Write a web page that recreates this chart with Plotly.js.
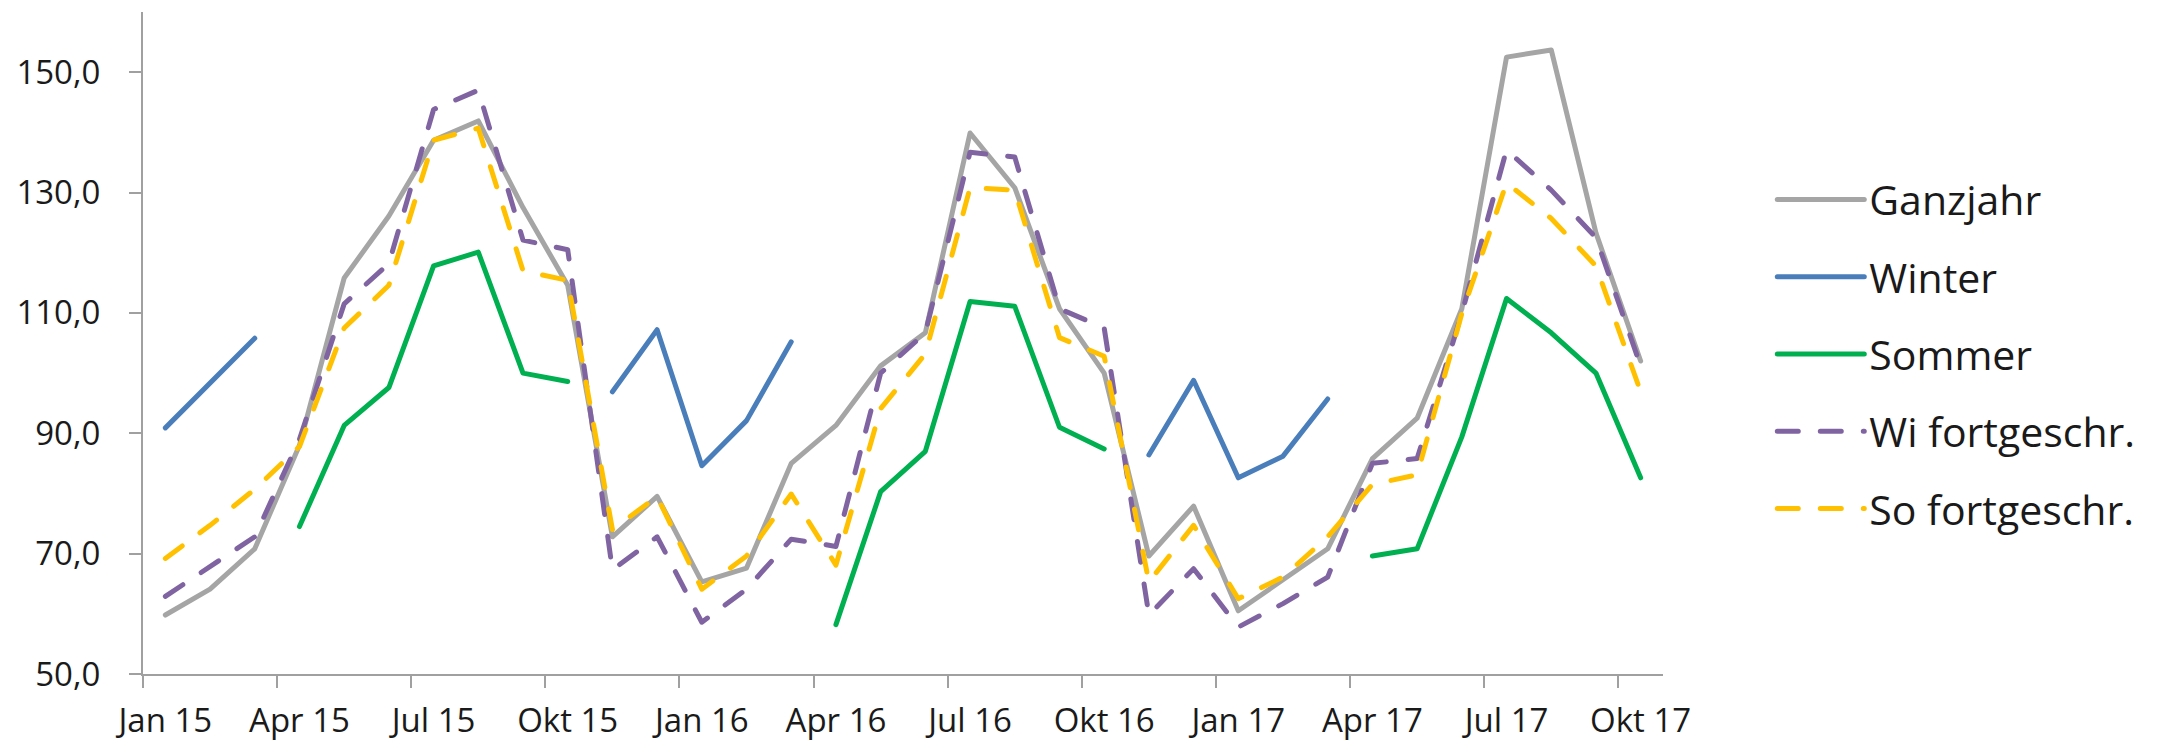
<!DOCTYPE html>
<html>
<head>
<meta charset="utf-8">
<script src="https://cdn.plot.ly/plotly-3.0.1.min.js"></script>
<style>
  html, body { margin: 0; padding: 0; background: #fff; }
  #chart { width: 2174px; height: 745px; }
  /* Excel-artige runde Linienenden */
  #chart path.js-line { stroke-linecap: round; stroke-linejoin: round; }
</style>
</head>
<body>
<div id="chart"></div>
<script>
// Monatswerte Jan 15 - Okt 17

const months = [
    'Jan 15', 'Feb 15', 'Mär 15', 'Apr 15', 'Mai 15', 'Jun 15', 'Jul 15', 'Aug 15', 'Sep 15', 'Okt 15', 'Nov 15', 'Dez 15',
    'Jan 16', 'Feb 16', 'Mär 16', 'Apr 16', 'Mai 16', 'Jun 16', 'Jul 16', 'Aug 16', 'Sep 16', 'Okt 16', 'Nov 16', 'Dez 16',
    'Jan 17', 'Feb 17', 'Mär 17', 'Apr 17', 'Mai 17', 'Jun 17', 'Jul 17', 'Aug 17', 'Sep 17', 'Okt 17'
];

const ganzjahr = [
    59.8, 64.1, 70.8, 88.0, 115.8, 126.1, 138.7, 141.9, 127.5, 114.6, 72.8, 79.5,
    65.3, 67.6, 85.0, 91.3, 101.2, 106.7, 139.9, 130.8, 110.7, 100.0, 69.6, 77.9,
    60.5, 65.7, 70.8, 85.8, 92.5, 110.7, 152.5, 153.7, 123.3, 102.0
];

const winter = [
    90.9, 98.4, 105.8, null, null, null, null, null, null, null, 96.9, 107.2,
    84.6, 92.1, 105.2, null, null, null, null, null, null, null, 86.4, 98.8,
    82.6, 86.2, 95.7, null, null, null, null, null, null, null
];

const sommer = [
    null, null, null, 74.5, 91.3, 97.6, 117.8, 120.1, 100.0, 98.6, null, null,
    null, null, null, 58.2, 80.3, 87.0, 111.9, 111.1, 91.0, 87.4, null, null,
    null, null, null, 69.6, 70.8, 89.4, 112.4, 106.7, 100.0, 82.6
];

const wiFortgeschr = [
    62.9, 67.9, 72.8, 89.0, 111.5, 118.2, 143.8, 147.0, 122.1, 120.5, 67.3, 72.8,
    58.6, 64.1, 72.4, 71.2, 100.0, 106.7, 136.7, 135.9, 110.7, 107.5, 59.8, 67.5,
    57.8, 61.7, 66.1, 85.0, 85.8, 109.9, 137.1, 130.4, 122.5, 101.2
];

const soFortgeschr = [
    69.2, 74.7, 80.7, 87.8, 107.5, 114.6, 138.7, 140.7, 117.0, 115.4, 74.0, 79.5,
    64.1, 69.6, 79.9, 68.1, 94.1, 103.2, 130.8, 130.4, 105.9, 102.8, 65.3, 74.7,
    62.5, 66.1, 72.8, 81.5, 83.1, 109.9, 131.6, 125.7, 117.8, 96.9
];

const seriesNames = ['Ganzjahr', 'Winter', 'Sommer', 'Wi fortgeschr.', 'So fortgeschr.'];

function makeTrace(name, values, color, dash) {
    return {
        x: months,
        y: values,
        type: 'scatter',
        mode: 'lines',
        name: name,
        legendgroup: name,
        connectgaps: false,
        hoverinfo: 'skip',
        line: {
            color: color,
            width: 5,
            dash: dash || 'solid'
        }
    };
}

const axisColor = '#a0a0a0';

const traces = [
    makeTrace(seriesNames[0], ganzjahr, '#a5a5a5'),
    makeTrace(seriesNames[1], winter, '#4a7ebb'),
    makeTrace(seriesNames[2], sommer, '#00b050'),
    makeTrace(seriesNames[3], wiFortgeschr, '#8064a2', '21px,22px'),
    makeTrace(seriesNames[4], soFortgeschr, '#ffc000', '21px,22px')
];

const layout = {
    width: 2174,
    height: 745,
    paper_bgcolor: '#ffffff',
    plot_bgcolor: '#ffffff',
    separators: ',.',
    font: { family: '"Open Sans", sans-serif', size: 33, color: '#1a1a1a' },
    margin: { l: 143, r: 511, t: 12, b: 71, pad: 0 },
    showlegend: true,
    legend: {
        x: 1.0719,
        xanchor: 'left',
        y: 0.767,
        yanchor: 'top',
        font: { size: 41, color: '#1a1a1a' },
        traceorder: 'grouped',
        tracegroupgap: 21,
        itemwidth: 87,
        bgcolor: 'rgba(0,0,0,0)'
    },
    xaxis: {
        type: 'category',
        range: [-0.5, 33.5],
        tickmode: 'linear',
        tick0: 0,
        dtick: 3,
        tickson: 'boundaries',
        tickangle: 0,
        ticks: 'outside',
        ticklen: 12,
        tickwidth: 2,
        tickcolor: axisColor,
        ticklabelstandoff: 16,
        showline: true,
        linecolor: axisColor,
        linewidth: 2,
        showgrid: false,
        zeroline: false
    },
    yaxis: {
        range: [50, 160],
        tickmode: 'linear',
        tick0: 50,
        dtick: 20,
        tickformat: '.1f',
        ticks: 'outside',
        ticklen: 12,
        tickwidth: 2,
        tickcolor: axisColor,
        ticklabelstandoff: 22,
        showline: true,
        linecolor: axisColor,
        linewidth: 2,
        showgrid: false,
        zeroline: false
    }
};

Plotly.newPlot('chart', traces, layout, { displayModeBar: false, staticPlot: true });
</script>
</body>
</html>
